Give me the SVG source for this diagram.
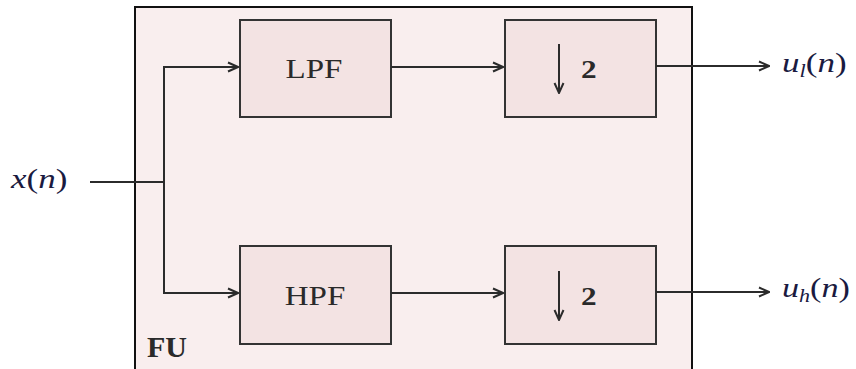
<svg xmlns="http://www.w3.org/2000/svg" width="856" height="369" viewBox="0 0 856 369">
<style>
.box{fill:#f3e3e3;stroke:#333;stroke-width:2}
.ln{fill:none;stroke:#2b2b2b;stroke-width:2}
.t{font-family:"Liberation Serif","Times New Roman",serif;fill:#2a2a2a}
.m{font-family:"Liberation Serif","Times New Roman",serif;fill:#1a1a40;font-size:28px}
.i{font-style:italic}
</style>
<defs>
<marker id="ah" viewBox="0 0 12 12" refX="11" refY="6" markerWidth="12" markerHeight="12" markerUnits="userSpaceOnUse" orient="auto">
<path d="M1,1.5 L11,6 L1,10.5" fill="none" stroke="#2b2b2b" stroke-width="2"/>
</marker>
</defs>
<rect width="856" height="369" fill="#fff"/>
<g id="fu">
<rect x="135" y="7" width="557" height="370" fill="#f9eeee" stroke="#111" stroke-width="2"/>
<text class="t" x="147" y="357" font-size="30" font-weight="bold" fill="#111">FU</text>
</g>
<g id="lpf"><rect class="box" x="240" y="20" width="151" height="97"/><text class="t" transform="translate(314,78) scale(1.18,1)" font-size="28" text-anchor="middle">LPF</text></g>
<g id="down1"><rect class="box" x="505" y="20" width="151" height="97"/>
<line class="ln" x1="559" y1="44" x2="559" y2="93" marker-end="url(#ah)"/>
<text class="t" transform="translate(581,78) scale(1.25,1)" font-size="25" font-weight="bold">2</text></g>
<g id="hpf"><rect class="box" x="240" y="246" width="151" height="98"/><text class="t" transform="translate(315,305) scale(1.18,1)" font-size="28" text-anchor="middle">HPF</text></g>
<g id="down2"><rect class="box" x="505" y="246" width="151" height="98"/>
<line class="ln" x1="559" y1="271" x2="559" y2="320" marker-end="url(#ah)"/>
<text class="t" transform="translate(581,305) scale(1.25,1)" font-size="25" font-weight="bold">2</text></g>
<g id="connectors">
<polyline class="ln" points="90,182 164,182"/>
<polyline class="ln" points="164,182 164,67 238,67" marker-end="url(#ah)"/>
<polyline class="ln" points="164,182 164,293 238,293" marker-end="url(#ah)"/>
<line class="ln" x1="391" y1="67" x2="503" y2="67" marker-end="url(#ah)"/>
<line class="ln" x1="391" y1="293" x2="503" y2="293" marker-end="url(#ah)"/>
<line class="ln" x1="656" y1="66" x2="769" y2="66" marker-end="url(#ah)"/>
<line class="ln" x1="656" y1="292" x2="769" y2="292" marker-end="url(#ah)"/>
</g>
<g id="labels">
<text class="m" transform="translate(11,188) scale(1.25,1)"><tspan class="i">x</tspan>(<tspan class="i">n</tspan>)</text>
<text class="m" transform="translate(782,72) scale(1.25,1)"><tspan class="i">u</tspan><tspan class="i" font-size="18" dy="5">l</tspan><tspan dy="-5">(</tspan><tspan class="i">n</tspan>)</text>
<text class="m" transform="translate(782,297) scale(1.22,1)"><tspan class="i">u</tspan><tspan class="i" font-size="18" dy="5">h</tspan><tspan dy="-5">(</tspan><tspan class="i">n</tspan>)</text>
</g>
</svg>
